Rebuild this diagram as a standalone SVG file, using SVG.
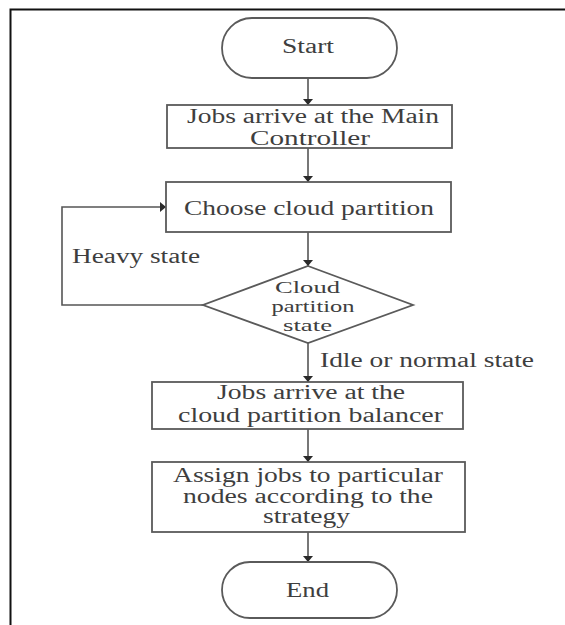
<svg xmlns="http://www.w3.org/2000/svg" width="565" height="625" viewBox="0 0 565 625">
<style>
.frame{fill:none;stroke:#111;stroke-width:2}
.shape{fill:#fff;stroke:#5a5a5a;stroke-width:1.8}
.conn{fill:none;stroke:#555;stroke-width:1.6}
text{font-family:"Liberation Serif","Times New Roman",serif;font-size:20px;fill:#3e3e3e}
.c{text-anchor:middle}
.d{font-size:17px}
</style>
<defs>
<marker id="ah" viewBox="0 0 10 10" refX="10" refY="5" markerWidth="6" markerHeight="10" markerUnits="userSpaceOnUse" orient="auto" preserveAspectRatio="none">
<path d="M0,0 L10,5 L0,10 Z" fill="#2a2a2a"/>
</marker>
</defs>
<rect width="565" height="625" fill="#fff"/>
<path class="frame" d="M565,9.5 H10.5 V625"/>
<g id="connectors">
<line class="conn" x1="308" y1="78" x2="308" y2="105" marker-end="url(#ah)"/>
<line class="conn" x1="308" y1="148" x2="308" y2="182" marker-end="url(#ah)"/>
<line class="conn" x1="308" y1="232" x2="308" y2="266" marker-end="url(#ah)"/>
<path class="conn" d="M203,305 H62 V207 H166" marker-end="url(#ah)"/>
<line class="conn" x1="308" y1="343" x2="308" y2="382" marker-end="url(#ah)"/>
<line class="conn" x1="308" y1="429" x2="308" y2="462" marker-end="url(#ah)"/>
<line class="conn" x1="308" y1="532" x2="308" y2="562" marker-end="url(#ah)"/>
<text x="72" y="263" textLength="128" lengthAdjust="spacingAndGlyphs">Heavy state</text>
<text x="320" y="367" textLength="214" lengthAdjust="spacingAndGlyphs">Idle or normal state</text>
</g>
<g id="start">
<rect class="shape" x="222" y="18" width="175" height="60" rx="30" ry="30"/>
<text class="c" x="308" y="53" textLength="52" lengthAdjust="spacingAndGlyphs">Start</text>
</g>
<g id="jobs-main">
<rect class="shape" x="167" y="105" width="285" height="43"/>
<text class="c" x="313" y="123" textLength="252" lengthAdjust="spacingAndGlyphs">Jobs arrive at the Main</text>
<text class="c" x="310" y="145" textLength="120" lengthAdjust="spacingAndGlyphs">Controller</text>
</g>
<g id="choose">
<rect class="shape" x="166" y="182" width="285" height="50"/>
<text class="c" x="309" y="215" textLength="250" lengthAdjust="spacingAndGlyphs">Choose cloud partition</text>
</g>
<g id="decision">
<polygon class="shape" points="308,266 413,305 308,343 203,305"/>
<text class="c d" x="307.5" y="293" textLength="65" lengthAdjust="spacingAndGlyphs">Cloud</text>
<text class="c d" x="313" y="312" textLength="83" lengthAdjust="spacingAndGlyphs">partition</text>
<text class="c d" x="307.5" y="331" textLength="49" lengthAdjust="spacingAndGlyphs">state</text>
</g>
<g id="jobs-balancer">
<rect class="shape" x="152" y="382" width="311" height="47"/>
<text class="c" x="311" y="399" textLength="188" lengthAdjust="spacingAndGlyphs">Jobs arrive at the</text>
<text class="c" x="310.5" y="422" textLength="265" lengthAdjust="spacingAndGlyphs">cloud partition balancer</text>
</g>
<g id="assign">
<rect class="shape" x="152" y="462" width="313" height="70"/>
<text class="c" x="308" y="482" textLength="270" lengthAdjust="spacingAndGlyphs">Assign jobs to particular</text>
<text class="c" x="308" y="503" textLength="250" lengthAdjust="spacingAndGlyphs">nodes according to the</text>
<text class="c" x="306.5" y="523" textLength="87" lengthAdjust="spacingAndGlyphs">strategy</text>
</g>
<g id="end">
<rect class="shape" x="222" y="562" width="175" height="56" rx="28" ry="28"/>
<text class="c" x="307.5" y="597" textLength="43" lengthAdjust="spacingAndGlyphs">End</text>
</g>
</svg>
